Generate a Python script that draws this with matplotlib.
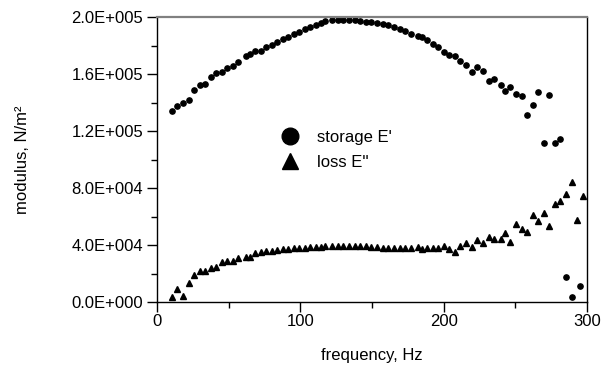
import matplotlib
matplotlib.use('Agg')
import matplotlib.pyplot as plt
from matplotlib.lines import Line2D
from matplotlib.ticker import FuncFormatter, MultipleLocator

plt.rcParams['font.family'] = ['Liberation Sans', 'DejaVu Sans']

# frequency (Hz) of each measured point
freq = [10.7, 14.2, 18.1, 22.1, 25.8, 29.8, 33.5, 37.5, 41.5, 45.4,
        49.1, 53.0, 56.8, 62.1, 64.7, 68.5, 72.5, 76.3, 80.2, 83.9,
        87.7, 91.5, 95.4, 99.3, 103.2, 106.7, 110.7, 114.4, 117.5, 122.4,
        126.3, 130.1, 134.0, 137.8, 141.7, 145.7, 149.6, 153.5, 157.5, 161.5,
        165.4, 169.2, 173.1, 177.1, 182.2, 184.7, 188.7, 192.4, 196.4, 200.3,
        204.0, 207.7, 211.7, 215.6, 219.7, 223.3, 227.3, 231.3, 235.0, 240.3,
        242.9, 246.6, 250.5, 254.5, 258.2, 262.2, 265.9, 269.9, 273.8, 277.8,
        281.5, 285.2, 289.2, 295.0]

# storage modulus E'
storage = [134000, 137300, 139900, 142000, 149000, 152300, 153000, 157900, 160700, 161800,
           164400, 166000, 168400, 172400, 173800, 176100, 176100, 178900, 180400, 182600,
           184400, 186200, 188000, 189800, 191400, 193400, 194600, 195800, 197200, 197900,
           197900, 198100, 197900, 197900, 197400, 196800, 196900, 196200, 195300, 194400,
           193200, 192000, 190600, 188300, 186900, 186000, 184300, 181500, 179400, 175600,
           173300, 172600, 169100, 166500, 161700, 164900, 162500, 155100, 156900, 152700,
           148500, 150900, 146400, 144600, 131200, 138400, 147600, 111600, 145700, 111600,
           114600, 17500, 3500, 11600]

freq_loss = freq[:-1] + [293.1, 296.9]

# loss modulus E''
loss = [3500, 9500, 4400, 13100, 19200, 21500, 21800, 24300, 25000, 28300,
        29000, 29000, 31300, 32000, 31600, 34400, 35000, 35600, 36200, 36600,
        37000, 37300, 37700, 38000, 38300, 38600, 38800, 39000, 39300, 39400,
        39400, 39400, 39400, 39200, 39200, 39100, 39000, 38800, 38100, 38100,
        37900, 38300, 37900, 37900, 38800, 37200, 37900, 37900, 38300, 39600,
        37200, 35100, 39500, 41800, 38600, 43700, 41400, 45600, 44600, 44600,
        48400, 42500, 54900, 51400, 49500, 61300, 57000, 62700, 53500, 69000,
        70900, 75800, 84200, 57300, 74800]


def sci_fmt(v, pos):
    if v == 0:
        return '0.0E+000'
    s = f'{v:.1E}'
    mant, exp = s.split('E')
    return f'{mant}E{exp[0]}{int(exp[1:]):03d}'


fig = plt.figure(figsize=(6.14, 3.73), dpi=100)
ax = fig.add_axes([0.2557, 0.190, 0.7003, 0.764])

ax.plot(freq, storage, 'o', color='black', markersize=3.8, linestyle='none')
ax.plot(freq_loss, loss, '^', color='black', markersize=4.6, linestyle='none')

ax.set_xlim(0, 300)
ax.set_ylim(0, 200000)
ax.xaxis.set_major_locator(MultipleLocator(100))
ax.xaxis.set_minor_locator(MultipleLocator(50))
ax.yaxis.set_major_locator(MultipleLocator(40000))
ax.yaxis.set_minor_locator(MultipleLocator(20000))
ax.yaxis.set_major_formatter(FuncFormatter(sci_fmt))

ax.tick_params(which='major', direction='out', length=7, width=1, labelsize=12)
ax.tick_params(which='minor', direction='out', length=4, width=1)
ax.tick_params(axis='x', which='major', pad=1.5)
ax.tick_params(axis='y', which='major', pad=3)
ax.tick_params(top=False, right=False, which='both')

ax.spines['top'].set_color('#808080')
ax.spines['top'].set_linewidth(1.6)
for side in ['left', 'bottom', 'right']:
    ax.spines[side].set_color('black')
    ax.spines[side].set_linewidth(1.0)

ax.set_xlabel('frequency, Hz', fontsize=12, labelpad=14)
ax.set_ylabel('modulus, N/m²', fontsize=12, labelpad=30)

handles = [Line2D([], [], marker='o', color='black', linestyle='none', markersize=12),
           Line2D([], [], marker='^', color='black', linestyle='none', markersize=12)]
ax.legend(handles, ["storage E'", "loss E''"], loc='center left',
          bbox_to_anchor=(0.251, 0.533), frameon=False, fontsize=12,
          handletextpad=0.6, labelspacing=0.6, borderpad=0)

fig.savefig('out.png', dpi=100)
